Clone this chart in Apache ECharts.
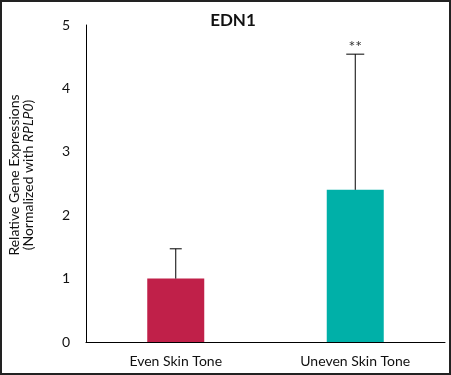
<!DOCTYPE html>
<html>
<head>
<meta charset="utf-8">
<script src="https://cdn.jsdelivr.net/npm/echarts@6/dist/echarts.min.js"></script>
<style>
html,body{margin:0;padding:0;background:#fff;}
#c{width:451px;height:375px;box-sizing:border-box;border:2px solid #222;}
</style>
</head>
<body>
<div id="c"></div>
<script>
var categories = ['Even Skin Tone', 'Uneven Skin Tone'];
var means = [1.0, 2.4];
var upperErr = [0.47, 2.14];
var signif = ['', '**'];
var barColors = ['#C02049', '#00B0A8'];
var yTicks = [0, 1, 2, 3, 4, 5];

var chart = echarts.init(document.getElementById('c'), null, {renderer: 'canvas'});
var font = 'Lato, "Open Sans", sans-serif';

var errData = categories.map(function (c, i) { return [i, means[i], means[i] + upperErr[i], signif[i]]; });

chart.setOption({
  animation: false,
  textStyle: {fontFamily: font},
  title: {
    text: 'EDN1', left: 226, top: 5, textAlign: 'center',
    textStyle: {fontFamily: font, fontSize: 17, fontWeight: 'bold', color: '#111'}
  },
  graphic: [{
    type: 'text', x: 19, y: 173, rotation: Math.PI / 2,
    style: {
      text: 'Relative Gene Expressions\n(Normalized with {i|RPLP0})',
      align: 'center', verticalAlign: 'middle',
      fill: '#111', fontSize: 14, fontFamily: font, lineHeight: 14,
      rich: {i: {fontStyle: 'italic', fontSize: 14, fontFamily: font, fill: '#111', lineHeight: 14}}
    }
  }],
  grid: {left: 84, right: 4, top: 23, bottom: 31, containLabel: false},
  xAxis: {
    type: 'category', data: categories,
    axisLine: {lineStyle: {color: '#000', width: 1}},
    axisTick: {show: false},
    axisLabel: {color: '#111', fontSize: 14, margin: 12, fontFamily: font}
  },
  yAxis: {
    type: 'value', min: 0, max: 5, interval: 1,
    splitLine: {show: false},
    axisLine: {show: true, lineStyle: {color: '#000', width: 1}},
    axisTick: {show: false},
    axisLabel: {color: '#111', fontSize: 14, margin: 16, fontFamily: font,
      formatter: function (v) { return yTicks.indexOf(v) >= 0 ? String(v) : ''; }}
  },
  series: [
    {
      type: 'bar', barWidth: 57,
      data: means.map(function (v, i) { return {value: v, itemStyle: {color: barColors[i]}}; }),
      z: 2
    },
    {
      type: 'custom', z: 3,
      data: errData,
      renderItem: function (params, api) {
        var x = api.value(0);
        var base = api.coord([x, api.value(1)]);
        var top = api.coord([x, api.value(2)]);
        var half = params.dataIndex === 0 ? 6 : 9;
        var children = [
          {type: 'line', shape: {x1: base[0], y1: base[1], x2: top[0], y2: top[1]}, style: {stroke: '#000', lineWidth: 1}},
          {type: 'line', shape: {x1: top[0] - half, y1: top[1], x2: top[0] + half, y2: top[1]}, style: {stroke: '#000', lineWidth: 1}}
        ];
        var s = api.value(3);
        if (s) {
          children.push({type: 'text', x: top[0], y: top[1] + 1,
            style: {text: s, textAlign: 'center', textVerticalAlign: 'bottom', fill: '#333', fontSize: 16, fontFamily: font}});
        }
        return {type: 'group', children: children};
      }
    }
  ]
});
</script>
</body>
</html>
